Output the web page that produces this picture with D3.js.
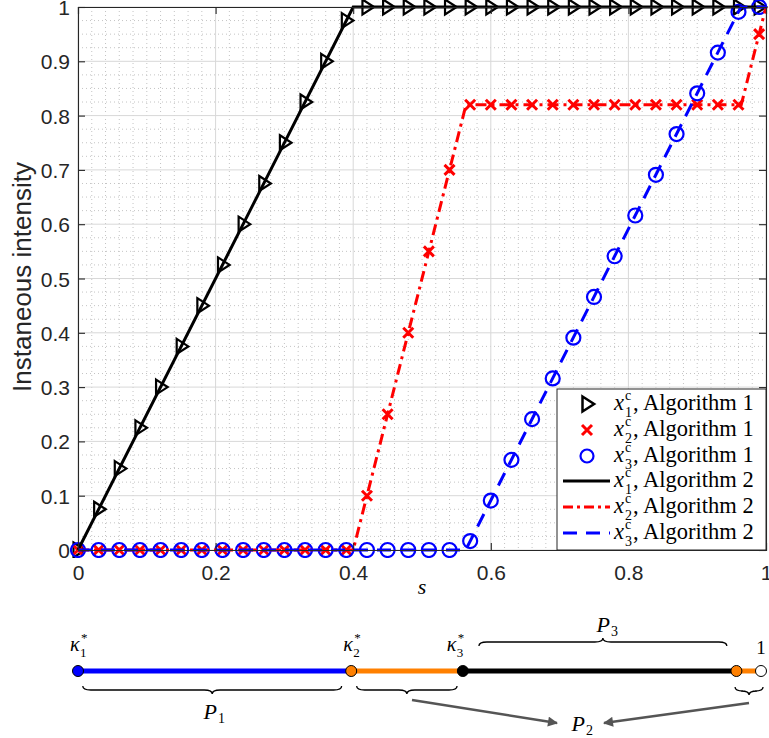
<!DOCTYPE html>
<html><head><meta charset="utf-8">
<script src="https://cdn.jsdelivr.net/npm/d3@7"></script>
<style>body{margin:0;background:#fff}svg{display:block}</style>
</head><body>
<svg id="c" width="769" height="738"></svg>
<script>
// ---- data ----
const sMarkers = [0,0.03,0.06,0.09,0.12,0.15,0.18,0.21,0.24,0.27,0.30,0.33,0.36,0.39,0.42,0.45,0.48,0.51,0.54,0.57,0.60,0.63,0.66,0.69,0.72,0.75,0.78,0.81,0.84,0.87,0.90,0.93,0.96,0.99];
const x1Alg1 = [0,0.075,0.15,0.225,0.3,0.375,0.45,0.525,0.6,0.675,0.75,0.825,0.9,0.975,1,1,1,1,1,1,1,1,1,1,1,1,1,1,1,1,1,1,1,1];
const x2Alg1 = [0,0,0,0,0,0,0,0,0,0,0,0,0,0,0.1,0.25,0.4,0.55,0.7,0.82,0.82,0.82,0.82,0.82,0.82,0.82,0.82,0.82,0.82,0.82,0.82,0.82,0.82,0.95];
const x3Alg1 = [0,0,0,0,0,0,0,0,0,0,0,0,0,0,0,0,0,0,0,0.0165,0.091,0.166,0.241,0.316,0.391,0.466,0.541,0.616,0.691,0.766,0.841,0.916,0.991,1];
const x1Alg2S = [0,0.4,1],              x1Alg2 = [0,1,1];
const x2Alg2S = [0,0.4,0.564,0.964,1],  x2Alg2 = [0,0,0.82,0.82,1];
const x3Alg2S = [0,0.5635,0.9635,1],    x3Alg2 = [0,0,1,1];
const xTicks = [0,0.2,0.4,0.6,0.8,1];
const yTicks = [0,0.1,0.2,0.3,0.4,0.5,0.6,0.7,0.8,0.9,1];
const legendLabels = [["1","Algorithm 1"],["2","Algorithm 1"],["3","Algorithm 1"],["1","Algorithm 2"],["2","Algorithm 2"],["3","Algorithm 2"]];
// bottom diagram
const kappaPts = [0,0.4,0.5635,0.964,1];
const kappaLabels = [["1",0],["2",0.4],["3",0.5635]];

const svg = d3.select("#c");
const L=78,R=766,T=7,B=550;
const x = d3.scaleLinear().domain([0,1]).range([L,R]);
const y = d3.scaleLinear().domain([0,1]).range([B,T]);
const axisCol="#262626";

// grid
const g = svg.append("g");
const minorX = d3.range(0,1.0001,0.02).filter(v=>Math.abs(v*5-Math.round(v*5))>1e-6);
const minorY = d3.range(0,1.0001,0.025).filter(v=>Math.abs(v*10-Math.round(v*10))>1e-6);
g.selectAll(".mx").data(minorX).join("line").attr("x1",d=>x(d)).attr("x2",d=>x(d)).attr("y1",T).attr("y2",B)
 .attr("stroke","#c4c4c4").attr("stroke-width",1).attr("stroke-dasharray","1,3");
g.selectAll(".my").data(minorY).join("line").attr("y1",d=>y(d)).attr("y2",d=>y(d)).attr("x1",L).attr("x2",R)
 .attr("stroke","#c4c4c4").attr("stroke-width",1).attr("stroke-dasharray","1,3");
g.selectAll(".gx").data(xTicks).join("line").attr("x1",d=>x(d)).attr("x2",d=>x(d)).attr("y1",T).attr("y2",B)
 .attr("stroke","#d8d8d8").attr("stroke-width",1);
g.selectAll(".gy").data(yTicks).join("line").attr("y1",d=>y(d)).attr("y2",d=>y(d)).attr("x1",L).attr("x2",R)
 .attr("stroke","#d8d8d8").attr("stroke-width",1);

// clip
svg.append("clipPath").attr("id","clip").append("rect").attr("x",L-8).attr("y",T-8).attr("width",R-L+16).attr("height",B-T+16);
const plot = svg.append("g").attr("clip-path","url(#clip)");

// markers (Algorithm 1)
function tri(cx,cy){const s=7.5;return `M${cx-s*0.6},${cy-s}L${cx+s*0.95},${cy}L${cx-s*0.6},${cy+s}Z`;}
function cross(cx,cy){const s=5;return `M${cx-s},${cy-s}L${cx+s},${cy+s}M${cx-s},${cy+s}L${cx+s},${cy-s}`;}
plot.selectAll(".m1").data(sMarkers).join("path").attr("d",(d,i)=>tri(x(d),y(x1Alg1[i])))
 .attr("fill","none").attr("stroke","#000").attr("stroke-width",2.2);
plot.selectAll(".m2").data(sMarkers).join("path").attr("d",(d,i)=>cross(x(d),y(x2Alg1[i])))
 .attr("fill","none").attr("stroke","#ff0000").attr("stroke-width",3);
plot.selectAll(".m3").data(sMarkers).join("circle").attr("cx",d=>x(d)).attr("cy",(d,i)=>y(x3Alg1[i])).attr("r",7)
 .attr("fill","none").attr("stroke","#0000ff").attr("stroke-width",2.2);

// lines (Algorithm 2)
const line = d3.line().x(d=>x(d[0])).y(d=>y(d[1]));
plot.append("path").attr("d",line(d3.zip(x1Alg2S,x1Alg2))).attr("fill","none").attr("stroke","#000").attr("stroke-width",3);
plot.append("path").attr("d",line(d3.zip(x2Alg2S,x2Alg2))).attr("fill","none").attr("stroke","#ff0000").attr("stroke-width",3).attr("stroke-dasharray","11,5,3,5");
plot.append("path").attr("d",line(d3.zip(x3Alg2S,x3Alg2))).attr("fill","none").attr("stroke","#0000ff").attr("stroke-width",3).attr("stroke-dasharray","14,9");

// axes
const tickFont = "21px 'Liberation Sans', Arial, sans-serif";
const ax = svg.append("g").attr("transform",`translate(0,${B})`).call(d3.axisBottom(x).tickValues(xTicks).tickSize(-7).tickPadding(15).tickFormat(d3.format("")));
const axT = svg.append("g").attr("transform",`translate(0,${T})`).call(d3.axisTop(x).tickValues(xTicks).tickSize(-7).tickFormat(""));
const ay = svg.append("g").attr("transform",`translate(${L},0)`).call(d3.axisLeft(y).tickValues(yTicks).tickSize(-7).tickPadding(8).tickFormat(d3.format("")));
const ayR = svg.append("g").attr("transform",`translate(${R},0)`).call(d3.axisRight(y).tickValues(yTicks).tickSize(-7).tickFormat(""));
[ax,axT,ay,ayR].forEach(a=>{a.select(".domain").attr("stroke",axisCol).attr("stroke-width",1.1);
 a.selectAll(".tick line").attr("stroke",axisCol).attr("stroke-width",1.1);
 a.selectAll("text").style("font",tickFont).attr("fill",axisCol);});
ax.selectAll("text").attr("dy","0.72em");
ay.selectAll("text").attr("dy","0.36em");

// axis labels
svg.append("text").attr("transform","translate(31,277) rotate(-90)").attr("text-anchor","middle")
 .style("font","26px 'Liberation Sans', Arial, sans-serif").attr("fill",axisCol).text("Instaneous intensity");
svg.append("text").attr("x",x(0.5)).attr("y",594).attr("text-anchor","middle")
 .style("font","italic 22px 'Liberation Serif', serif").attr("fill","#000").text("s");

// legend
const lg = svg.append("g");
lg.append("rect").attr("x",557).attr("y",389).attr("width",209).attr("height",161).attr("fill","#fff").attr("stroke",axisCol).attr("stroke-width",1);
const rowY = [404,430,456,481,507,533];
const serif = "'Liberation Serif', 'Times New Roman', serif";
legendLabels.forEach((lab,i)=>{
  const cy = rowY[i], tx=614;
  if(i===0) lg.append("path").attr("d",tri(587,cy)).attr("fill","none").attr("stroke","#000").attr("stroke-width",2.5);
  if(i===1) lg.append("path").attr("d",cross(587,cy)).attr("fill","none").attr("stroke","#ff0000").attr("stroke-width",3);
  if(i===2) lg.append("circle").attr("cx",587).attr("cy",cy).attr("r",6.5).attr("fill","none").attr("stroke","#0000ff").attr("stroke-width",2.2);
  if(i>=3){
    const col=["#000","#ff0000","#0000ff"][i-3], da=[null,"10,4,3,4","14,9"][i-3];
    const p=lg.append("line").attr("x1",563).attr("x2",610).attr("y1",cy).attr("y2",cy).attr("stroke",col).attr("stroke-width",3);
    if(da) p.attr("stroke-dasharray",da);
  }
  const by = cy+6;
  lg.append("text").attr("x",tx).attr("y",by).style("font",`italic 22.5px ${serif}`).text("x");
  lg.append("text").attr("x",tx+11).attr("y",by-10).style("font",`14px ${serif}`).text("c");
  lg.append("text").attr("x",tx+11).attr("y",by+7).style("font",`14px ${serif}`).text(lab[0]);
  lg.append("text").attr("x",tx+19).attr("y",by).style("font",`22.5px ${serif}`).text(", "+lab[1]);
});

// ---- bottom diagram ----
const xd = d3.scaleLinear().domain([0,1]).range([78,761]);
const dy0 = 671;
const dg = svg.append("g");
const segCols = ["#0000ff","#ff8000","#000000","#ff8000"];
for(let i=0;i<kappaPts.length-1;i++){
  dg.append("line").attr("x1",xd(kappaPts[i])).attr("x2",xd(kappaPts[i+1])).attr("y1",dy0).attr("y2",dy0)
    .attr("stroke",segCols[i]).attr("stroke-width",5);
}
const ptCols = ["#0000ff","#ff8000","#000000","#ff8000","#ffffff"];
dg.selectAll(".kp").data(kappaPts).join("circle").attr("cx",d=>xd(d)).attr("cy",dy0).attr("r",5.5)
  .attr("fill",(d,i)=>ptCols[i]).attr("stroke","#000").attr("stroke-width",1);
kappaLabels.forEach(([k,v],i)=>{
  const cx = xd(v) + (i===2?-8:0);
  dg.append("text").attr("x",cx-8).attr("y",651).style("font",`italic 20px ${serif}`).text("κ");
  dg.append("text").attr("x",cx+3).attr("y",642).style("font",`13px ${serif}`).text("*");
  dg.append("text").attr("x",cx+2).attr("y",657).style("font",`13px ${serif}`).text(k);
});
dg.append("text").attr("x",xd(1)).attr("y",654).attr("text-anchor","middle").style("font",`19px ${serif}`).text("1");

function brace(x1,x2,yb,dir,h){ // dir=1 down, -1 up
  const m=(x1+x2)/2, q=h/2;
  return `M${x1},${yb-dir*q} Q${x1},${yb} ${x1+q*2},${yb} L${m-q*2},${yb} Q${m},${yb} ${m},${yb+dir*q} Q${m},${yb} ${m+q*2},${yb} L${x2-q*2},${yb} Q${x2},${yb} ${x2},${yb-dir*q}`;
}
const braces = [[0.007,0.386,690,1],[0.408,0.555,690,1],[0.962,1.003,691,1],[0.587,0.95,642,-1]];
braces.forEach(b=>dg.append("path").attr("d",brace(xd(b[0]),xd(b[1]),b[2],b[3],8)).attr("fill","none").attr("stroke","#000").attr("stroke-width",1.3));
function plab(xp,yp,k){
  dg.append("text").attr("x",xp).attr("y",yp).attr("text-anchor","end").style("font",`italic 22px ${serif}`).text("P");
  dg.append("text").attr("x",xp+1).attr("y",yp+4).style("font",`14px ${serif}`).text(k);
}
plab(217,719,"1"); plab(585,731,"2"); plab(610,632,"3");
// arrows
svg.append("defs").append("marker").attr("id","ah").attr("viewBox","0 0 10 10").attr("refX",9).attr("refY",5)
  .attr("markerWidth",5).attr("markerHeight",4).attr("orient","auto").attr("markerUnits","strokeWidth")
  .append("path").attr("d","M0,0L10,5L0,10Z").attr("fill","#555");
dg.append("line").attr("x1",412).attr("y1",700).attr("x2",557).attr("y2",723).attr("stroke","#555").attr("stroke-width",2.5).attr("marker-end","url(#ah)");
dg.append("line").attr("x1",749).attr("y1",703).attr("x2",604).attr("y2",723).attr("stroke","#555").attr("stroke-width",2.5).attr("marker-end","url(#ah)");
</script>
</body></html>
